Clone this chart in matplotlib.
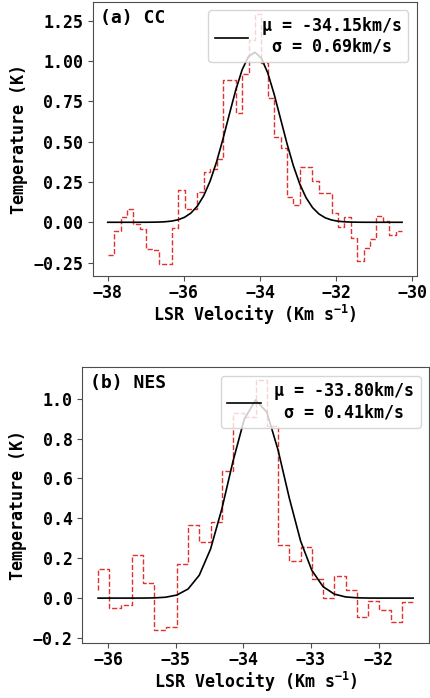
import numpy as np
import matplotlib
matplotlib.use("Agg")
import matplotlib.pyplot as plt

plt.rcParams['font.family'] = ['DejaVu Sans Mono', 'DejaVu Sans']
plt.rcParams['font.weight'] = 'bold'
plt.rcParams['font.size'] = 12
plt.rcParams['axes.labelweight'] = 'bold'
plt.rcParams['mathtext.fontset'] = 'custom'
plt.rcParams['mathtext.rm'] = 'DejaVu Sans Mono:bold'
plt.rcParams['mathtext.it'] = 'DejaVu Sans Mono:bold'
plt.rcParams['mathtext.bf'] = 'DejaVu Sans Mono:bold'
plt.rcParams['mathtext.default'] = 'rm'
plt.rcParams['axes.edgecolor'] = '0.3'
plt.rcParams['xtick.color'] = '0.3'
plt.rcParams['ytick.color'] = '0.3'
plt.rcParams['xtick.labelcolor'] = 'black'
plt.rcParams['ytick.labelcolor'] = 'black'
plt.rcParams['xtick.major.pad'] = 2.5

# ---- Panel (a) CC ----
vel_a = [-38.000, -37.832, -37.664, -37.496, -37.328, -37.160, -36.992, -36.824,
         -36.656, -36.488, -36.320, -36.152, -35.984, -35.816, -35.648, -35.480,
         -35.312, -35.144, -34.976, -34.808, -34.640, -34.472, -34.304, -34.136,
         -33.968, -33.800, -33.632, -33.464, -33.296, -33.128, -32.960, -32.792,
         -32.624, -32.456, -32.288, -32.120, -31.952, -31.784, -31.616, -31.448,
         -31.280, -31.112, -30.944, -30.776, -30.608, -30.440, -30.272]
temp_a = [-0.20, -0.20, -0.056, 0.033, 0.085, -0.008, -0.041, -0.165, -0.172,
          -0.256, -0.256, -0.035, 0.198, 0.08, 0.08, 0.186, 0.31, 0.33, 0.39,
          0.88, 0.88, 0.68, 0.92, 1.13, 1.29, 0.99, 0.77, 0.53, 0.46, 0.157,
          0.11, 0.34, 0.34, 0.256, 0.18, 0.18, 0.06, -0.03, 0.03, -0.10, -0.24,
          -0.16, -0.105, 0.04, 0.01, -0.08, -0.054]
mu_a, sigma_a, amp_a = -34.15, 0.69, 1.055

# ---- Panel (b) NES ----
vel_b = [-36.150, -35.984, -35.817, -35.651, -35.484, -35.318, -35.151, -34.985,
         -34.818, -34.652, -34.485, -34.319, -34.152, -33.986, -33.819, -33.653,
         -33.486, -33.320, -33.153, -32.987, -32.820, -32.654, -32.487, -32.321,
         -32.154, -31.988, -31.821, -31.655, -31.488]
temp_b = [0.04, 0.146, -0.052, -0.035, 0.218, 0.077, -0.161, -0.146, 0.169,
          0.368, 0.28, 0.38, 0.638, 0.93, 0.91, 1.095, 0.864, 0.268, 0.184,
          0.256, 0.097, 0.0, 0.109, 0.042, -0.094, -0.013, -0.06, -0.119, -0.018]
mu_b, sigma_b, amp_b = -33.80, 0.41, 0.995

panels = [
    ('(a) CC', vel_a, temp_a, mu_a, sigma_a, amp_a, [0.2163, 0.6046, 0.753, 0.3926]),
    ('(b) NES', vel_b, temp_b, mu_b, sigma_b, amp_b, [0.1914, 0.0792, 0.806, 0.3946]),
]

fig = plt.figure(figsize=(4.30, 6.98), dpi=100)
for title, v, t, mu, sg, amp, rect in panels:
    ax = fig.add_axes(rect)
    v = np.array(v)
    ax.step(v, t, where='pre', color='#e03030', linestyle='--', linewidth=1.0)
    fit = amp * np.exp(-(v - mu) ** 2 / (2 * sg ** 2))
    ax.plot(v, fit, color='black', linewidth=1.2,
            label=f'μ = {mu:.2f}km/s\nσ = {sg:.2f}km/s')
    leg = ax.legend(loc='upper right', fontsize=12)
    for txt in leg.get_texts():
        txt.set_multialignment('center')
    ax.text(0.022, 0.975, title, transform=ax.transAxes, va='top', ha='left',
            fontsize=13, fontweight='bold')
    ax.set_xlabel('LSR Velocity (Km s$^{-1}$)', labelpad=0.5)
    ax.set_ylabel('Temperature (K)')
    for lab in ax.get_xticklabels() + ax.get_yticklabels():
        lab.set_fontweight('bold')

fig.savefig('out.png', dpi=100)
